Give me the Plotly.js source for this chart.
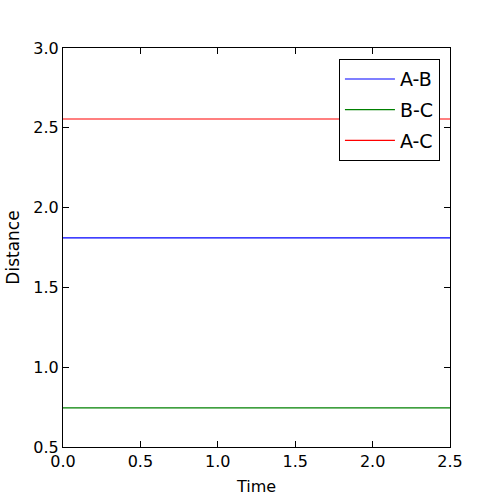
<!DOCTYPE html>
<html>
<head>
<script src="https://cdn.plot.ly/plotly-3.0.1.min.js"></script>
<style>html,body{margin:0;padding:0;background:#fff}</style>
</head>
<body>
<div id="chart" style="width:500px;height:497px"></div>
<script>
const seriesNames = ["A-B", "B-C", "A-C"];
const seriesColors = ["#0000ff", "#008000", "#ff0000"];
const time = [0.0, 0.5, 1.0, 1.5, 2.0, 2.5];
const distAB = [1.81, 1.81, 1.81, 1.81, 1.81, 1.81];
const distBC = [0.745, 0.745, 0.745, 0.745, 0.745, 0.745];
const distAC = [2.555, 2.555, 2.555, 2.555, 2.555, 2.555];
const xTicks = [0.0, 0.5, 1.0, 1.5, 2.0, 2.5];
const yTicks = [0.5, 1.0, 1.5, 2.0, 2.5, 3.0];

const series = [distAB, distBC, distAC];
const traces = series.map((ys, i) => ({
  x: time, y: ys, type: "scatter", mode: "lines", name: seriesNames[i],
  legendgroup: "g" + i,
  line: {color: seriesColors[i], width: 1.2}
}));

const font = {family: "DejaVu Sans", size: 16, color: "#000"};
const axisCommon = {
  showgrid: false, zeroline: false, showline: true, mirror: "ticks",
  linecolor: "#000", linewidth: 1, ticks: "inside", ticklen: 6, tickwidth: 1,
  tickcolor: "#000", tickfont: font
};
const layout = {
  width: 500, height: 497,
  margin: {l: 63, r: 50, t: 48, b: 50},
  paper_bgcolor: "#fff", plot_bgcolor: "#fff",
  font: font,
  showlegend: true,
  xaxis: Object.assign({}, axisCommon, {
    range: [0, 2.5], tickvals: xTicks, ticktext: xTicks.map(v => v.toFixed(1)),
    title: {text: "Time", font: font, standoff: 10}
  }),
  yaxis: Object.assign({}, axisCommon, {
    range: [0.5, 3.0], tickvals: yTicks, ticktext: yTicks.map(v => v.toFixed(1)),
    title: {text: "Distance", font: {family: "DejaVu Sans", size: 17, color: "#000"}, standoff: 9}
  }),
  legend: {
    x: 0.974, xanchor: "right", y: 0.972, yanchor: "top",
    bgcolor: "#fff", bordercolor: "#000", borderwidth: 1,
    font: {family: "DejaVu Sans", size: 19, color: "#000"},
    traceorder: "grouped", tracegroupgap: 3, itemwidth: 50
  }
};
Plotly.newPlot("chart", traces, layout, {displayModeBar: false, staticPlot: true});
</script>
</body>
</html>
